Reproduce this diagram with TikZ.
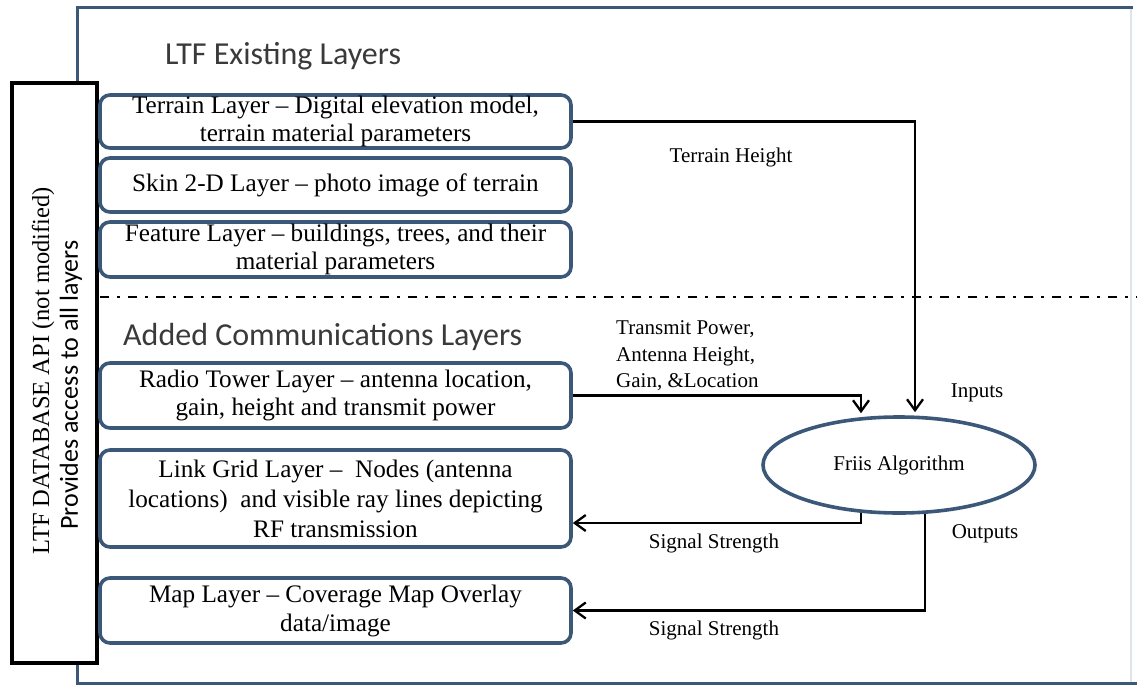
\documentclass[tikz,border=0pt]{standalone}
\usepackage{fontspec}
\setmainfont{Liberation Serif}
\newfontfamily\calfont{Carlito}
\usetikzlibrary{arrows.meta,shapes.geometric}
\definecolor{slate}{HTML}{3B5878}
\definecolor{headgray}{HTML}{3A3A3A}
\definecolor{faint}{HTML}{DCE4EC}
\begin{document}
\begin{tikzpicture}[x=1pt,y=-1pt,
  frameline/.style={draw=slate, line width=3pt},
  layer/.style={draw=slate, line width=3.6pt, rounded corners=10pt, fill=white,
    minimum width=471pt, inner sep=0pt, align=center,
    font=\fontsize{25.2}{28}\selectfont},
  heading/.style={font=\calfont\fontsize{32}{36}\selectfont, text=headgray, inner sep=0pt, anchor=base west},
  lbl/.style={font=\fontsize{21}{26}\selectfont, inner sep=0pt},
  arr/.style={draw=black, line width=2.3pt, -{Straight Barb[length=11pt,width=16pt,line width=2.3pt]}},
  dashdot/.style={draw=black, line width=2.6pt, dash pattern=on 9pt off 8pt on 2.5pt off 8.5pt}
]
\useasboundingbox (0,0) rectangle (1137,685);
\fill[white] (0,0) rectangle (1137,685);

% outer frame
\draw[faint, line width=1.5pt] (1131,8) -- (1131,683);
\draw[frameline] (1133,8) -- (77,8) -- (77,683) -- (1137,683);

% API box
\node[draw=black, line width=3.8pt, fill=white, minimum width=85pt, minimum height=580pt, inner sep=0pt] (api) at (54.5,373) {};
\node[rotate=90, inner sep=0pt, font=\fontsize{24.5}{28}\selectfont] (apit1) at (43,371) {LTF DATABASE API (not modified)};
\node[rotate=90, inner sep=0pt, font=\calfont\fontsize{26}{30}\selectfont] (apit2) at (71,385) {Provides access to all layers};

% headings
\node[heading] (h1) at (165,65) {LTF Existing Layers};
\node[heading] (h2) at (123,345) {Added Communications Layers};

% layers
\node[layer, minimum height=53pt] (terrain) at (335.5,121.5) {Terrain Layer -- Digital elevation model,\\terrain material parameters};
\node[layer, minimum height=54pt] (skin) at (335.5,185) {Skin 2-D Layer -- photo image of terrain};
\node[layer, minimum height=55pt] (feature) at (335.5,249.5) {Feature Layer -- buildings, trees, and their\\material parameters};
\node[layer, minimum height=65pt] (radio) at (335.5,395.5) {Radio Tower Layer -- antenna location,\\gain, height and transmit power};
\node[layer, minimum height=97pt, font=\fontsize{25.2}{30}\selectfont] (link) at (335.5,498.5) {Link Grid Layer --\ \ Nodes (antenna\\locations)\ \ and visible ray lines depicting\\RF transmission};
\node[layer, minimum height=65pt, font=\fontsize{25.2}{29}\selectfont] (map) at (335.5,610.5) {Map Layer -- Coverage Map Overlay\\data/image};

% separator
\coordinate (sepL) at (100,297);
\coordinate (sepR) at (1137,297);
\draw[dashdot] (sepL) -- (sepR);

% Friis
\node[ellipse, draw=slate, line width=3.6pt, fill=white, minimum width=272pt, minimum height=96pt, inner sep=0pt, font=\fontsize{21}{26}\selectfont] (fr) at (899,465) {Friis Algorithm};

% connectors
\draw[arr] (terrain.east) -| ([xshift=16pt,yshift=3pt]fr.north);
\draw[arr] (radio.east) -| ([xshift=-38pt,yshift=2pt]fr.north);
\draw[arr] ([xshift=-38pt,yshift=2pt]fr.south) |- ([yshift=-24.5pt]link.east);
\draw[arr] ([xshift=26pt,yshift=1pt]fr.south) |- (map.east);

% labels
\node[lbl] (lth) at (731,157) {Terrain Height};
\node[lbl, align=left, anchor=west, font=\fontsize{21}{26.5}\selectfont] (ltp) at (616,356) {Transmit Power,\\Antenna Height,\\Gain, \&Location};
\node[lbl] (lin) at (977,393) {Inputs};
\node[lbl] (lout) at (985,534) {Outputs};
\node[lbl] (ls1) at (714,543) {Signal Strength};
\node[lbl] (ls2) at (714,630) {Signal Strength};
\end{tikzpicture}
\end{document}
